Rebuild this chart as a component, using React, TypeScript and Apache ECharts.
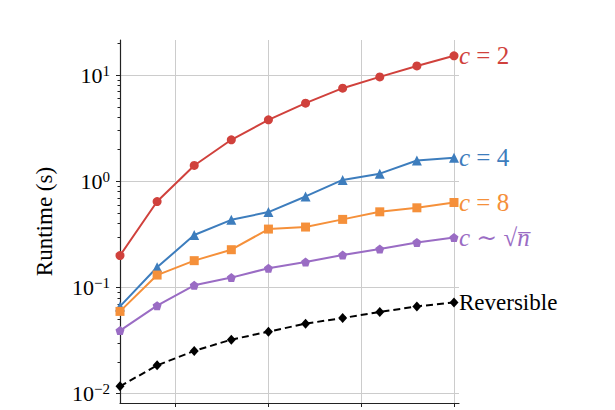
import React, { useEffect, useRef } from "react";
import * as echarts from "echarts";

const nValues = [10, 20, 30, 40, 50, 60, 70, 80, 90, 100];
const c2 = [0.2, 0.645, 1.41, 2.46, 3.79, 5.44, 7.53, 9.62, 12.2, 15.2];
const c4 = [0.0664, 0.155, 0.312, 0.434, 0.513, 0.72, 1.03, 1.18, 1.57, 1.67];
const c8 = [0.0596, 0.131, 0.179, 0.227, 0.355, 0.371, 0.438, 0.516, 0.563, 0.632];
const cSqrt = [0.0393, 0.0675, 0.105, 0.124, 0.152, 0.174, 0.202, 0.23, 0.266, 0.296];
const reversible = [0.01174, 0.0185, 0.0253, 0.0323, 0.0384, 0.0457, 0.0516, 0.0588, 0.0664, 0.0724];

const xTicks = [25, 50, 75, 100];
const yMajorTicks = [0.01, 0.1, 1, 10];
const yMinorTicks = [
  0.02, 0.03, 0.04, 0.05, 0.06, 0.07, 0.08, 0.09,
  0.2, 0.3, 0.4, 0.5, 0.6, 0.7, 0.8, 0.9,
  2, 3, 4, 5, 6, 7, 8, 9, 20,
];

const SERIF = "Liberation Serif, DejaVu Serif, serif";
const RED = "#d0413c";
const BLUE = "#3d7dbd";
const ORANGE = "#f5903a";
const PURPLE = "#9a6cc4";
const BLACK = "#000000";

const Y_MIN = 0.00818;
const Y_MAX = 21.4;
const X_MIN = 10;
const X_MAX = 101.35;

const PENTAGON = "path://M0,-1 L0.951,-0.309 L0.588,0.809 L-0.588,0.809 L-0.951,-0.309 Z";

export default function App() {
  const ref = useRef<HTMLDivElement>(null);
  useEffect(() => {
    if (!ref.current) return;
    const chart = echarts.init(ref.current, null, { renderer: "svg" });

    const pair = (ys: number[]) => nValues.map((x, i) => [x, ys[i]]);
    const mk = (
      name: string,
      ys: number[],
      color: string,
      symbol: string,
      symbolSize: any,
      label: string,
      dashed = false
    ) => ({
      type: "line",
      name,
      data: pair(ys),
      color,
      symbol,
      symbolSize,
      showSymbol: true,
      clip: false,
      lineStyle: { color, width: 2, type: dashed ? [7, 4] : "solid" },
      itemStyle: { color },
      endLabel: {
        show: true,
        formatter: () => label,
        color,
        distance: 5,
        fontFamily: SERIF,
        fontSize: 24,
        rich: {
          i: { fontFamily: SERIF, fontStyle: "italic", fontSize: 25, color },
          t: { fontFamily: SERIF, fontSize: 25, color },
          r: { fontFamily: SERIF, fontSize: 23, color },
        },
      },
    });

    chart.setOption({
      animation: false,
      backgroundColor: "#ffffff",
      textStyle: { fontFamily: SERIF },
      grid: { left: 120, right: 156, top: 40, bottom: 7, containLabel: false },
      xAxis: {
        type: "value",
        min: X_MIN,
        max: X_MAX,
        axisLine: { show: true, lineStyle: { color: "#222", width: 1.2 } },
        axisTick: { show: true, customValues: xTicks, length: 4, lineStyle: { color: "#222" } },
        axisLabel: { show: false },
        splitLine: { show: true, lineStyle: { color: "#cccccc", width: 1 } },
      },
      yAxis: [
        {
          type: "log",
          logBase: 10,
          min: Y_MIN,
          max: Y_MAX,
          name: "Runtime (s)",
          nameLocation: "middle",
          nameGap: 64,
          nameTextStyle: { fontFamily: SERIF, fontSize: 23, color: "#000" },
          axisLine: { show: true, lineStyle: { color: "#222", width: 1.2 } },
          axisTick: { show: true, customValues: yMajorTicks, length: 4, lineStyle: { color: "#222" } },
          axisLabel: {
            show: true,
            customValues: yMajorTicks,
            margin: 10,
            fontFamily: SERIF,
            formatter: (v: number) => {
              const e = Math.round(Math.log10(v));
              const s = e < 0 ? "\u2212" + -e : String(e);
              return "{b|10}{s|" + s + "}";
            },
            rich: {
              b: { fontFamily: SERIF, fontSize: 22, lineHeight: 24, color: "#000" },
              s: { fontFamily: SERIF, fontSize: 15, lineHeight: 14, verticalAlign: "top", color: "#000" },
            },
          },
          splitLine: { show: true, lineStyle: { color: "#cccccc", width: 1 } },
        },
        {
          type: "log",
          logBase: 10,
          min: Y_MIN,
          max: Y_MAX,
          position: "left",
          offset: 0,
          axisLine: { show: false },
          axisTick: { show: true, customValues: yMinorTicks, length: 2.5, lineStyle: { color: "#222" } },
          axisLabel: { show: false },
          splitLine: { show: false },
        },
      ],
      series: [
        mk("c2", c2, RED, "circle", 9, "{i|c}{t| = 2}"),
        mk("c4", c4, BLUE, "triangle", 10, "{i|c}{t| = 4}"),
        mk("c8", c8, ORANGE, "rect", 9, "{i|c}{t| = 8}"),
        mk("csqrt", cSqrt, PURPLE, PENTAGON, 9, "{i|c}{t| \u223C \u221A}{i|n\u0305}"),
        mk("rev", reversible, BLACK, "diamond", [9, 10], "{r|Reversible}", true),
      ],
    });
    return () => chart.dispose();
  }, []);
  return (
    <div
      ref={ref}
      style={{ position: "fixed", left: 0, top: 0, width: 615, height: 410 }}
    />
  );
}
